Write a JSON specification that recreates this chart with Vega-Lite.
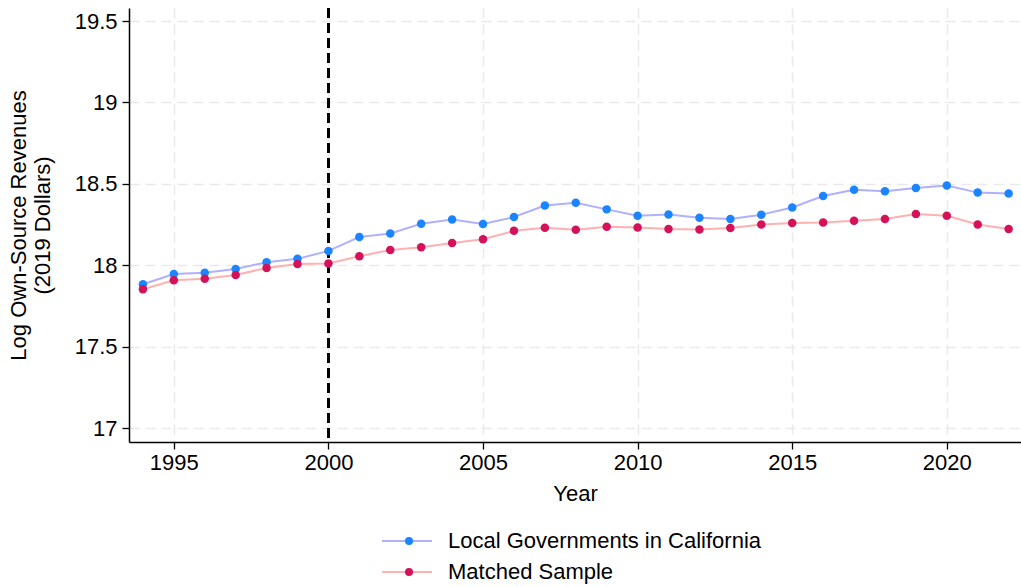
{
  "$schema": "https://vega.github.io/schema/vega-lite/v6.json",
  "autosize": {"type": "none"},
  "padding": {"left": 129, "top": 8, "right": 0, "bottom": 145},
  "width": 892,
  "height": 434,
  "background": "white",
  "config": {
    "font": "Liberation Sans",
    "view": {"stroke": null},
    "axis": {
      "labelFontSize": 22,
      "titleFontSize": 22,
      "titleFontWeight": "normal",
      "labelColor": "black",
      "titleColor": "black",
      "domainColor": "black",
      "domainWidth": 1.5,
      "tickColor": "black",
      "tickWidth": 1.3,
      "tickSize": 7,
      "gridColor": "#e9e9e9",
      "gridWidth": 1.5,
      "gridDash": [10, 6]
    },
    "legend": {
      "labelFontSize": 22,
      "labelColor": "black",
      "labelLimit": 500,
      "padding": 0,
      "rowPadding": 9
    }
  },
  "datasets": {
    "main": [
      {"year": 1994, "series": "Local Governments in California", "value": 17.883},
      {"year": 1995, "series": "Local Governments in California", "value": 17.946},
      {"year": 1996, "series": "Local Governments in California", "value": 17.954},
      {"year": 1997, "series": "Local Governments in California", "value": 17.977},
      {"year": 1998, "series": "Local Governments in California", "value": 18.018},
      {"year": 1999, "series": "Local Governments in California", "value": 18.039},
      {"year": 2000, "series": "Local Governments in California", "value": 18.088},
      {"year": 2001, "series": "Local Governments in California", "value": 18.173},
      {"year": 2002, "series": "Local Governments in California", "value": 18.195},
      {"year": 2003, "series": "Local Governments in California", "value": 18.255},
      {"year": 2004, "series": "Local Governments in California", "value": 18.281},
      {"year": 2005, "series": "Local Governments in California", "value": 18.253},
      {"year": 2006, "series": "Local Governments in California", "value": 18.296},
      {"year": 2007, "series": "Local Governments in California", "value": 18.367},
      {"year": 2008, "series": "Local Governments in California", "value": 18.384},
      {"year": 2009, "series": "Local Governments in California", "value": 18.343},
      {"year": 2010, "series": "Local Governments in California", "value": 18.304},
      {"year": 2011, "series": "Local Governments in California", "value": 18.312},
      {"year": 2012, "series": "Local Governments in California", "value": 18.292},
      {"year": 2013, "series": "Local Governments in California", "value": 18.284},
      {"year": 2014, "series": "Local Governments in California", "value": 18.31},
      {"year": 2015, "series": "Local Governments in California", "value": 18.355},
      {"year": 2016, "series": "Local Governments in California", "value": 18.425},
      {"year": 2017, "series": "Local Governments in California", "value": 18.464},
      {"year": 2018, "series": "Local Governments in California", "value": 18.454},
      {"year": 2019, "series": "Local Governments in California", "value": 18.475},
      {"year": 2020, "series": "Local Governments in California", "value": 18.489},
      {"year": 2021, "series": "Local Governments in California", "value": 18.446},
      {"year": 2022, "series": "Local Governments in California", "value": 18.44},
      {"year": 1994, "series": "Matched Sample", "value": 17.852},
      {"year": 1995, "series": "Matched Sample", "value": 17.907},
      {"year": 1996, "series": "Matched Sample", "value": 17.917},
      {"year": 1997, "series": "Matched Sample", "value": 17.94},
      {"year": 1998, "series": "Matched Sample", "value": 17.983},
      {"year": 1999, "series": "Matched Sample", "value": 18.008},
      {"year": 2000, "series": "Matched Sample", "value": 18.01},
      {"year": 2001, "series": "Matched Sample", "value": 18.055},
      {"year": 2002, "series": "Matched Sample", "value": 18.094},
      {"year": 2003, "series": "Matched Sample", "value": 18.111},
      {"year": 2004, "series": "Matched Sample", "value": 18.137},
      {"year": 2005, "series": "Matched Sample", "value": 18.16},
      {"year": 2006, "series": "Matched Sample", "value": 18.211},
      {"year": 2007, "series": "Matched Sample", "value": 18.23},
      {"year": 2008, "series": "Matched Sample", "value": 18.218},
      {"year": 2009, "series": "Matched Sample", "value": 18.236},
      {"year": 2010, "series": "Matched Sample", "value": 18.232},
      {"year": 2011, "series": "Matched Sample", "value": 18.222},
      {"year": 2012, "series": "Matched Sample", "value": 18.22},
      {"year": 2013, "series": "Matched Sample", "value": 18.228},
      {"year": 2014, "series": "Matched Sample", "value": 18.25},
      {"year": 2015, "series": "Matched Sample", "value": 18.259},
      {"year": 2016, "series": "Matched Sample", "value": 18.263},
      {"year": 2017, "series": "Matched Sample", "value": 18.273},
      {"year": 2018, "series": "Matched Sample", "value": 18.284},
      {"year": 2019, "series": "Matched Sample", "value": 18.314},
      {"year": 2020, "series": "Matched Sample", "value": 18.304},
      {"year": 2021, "series": "Matched Sample", "value": 18.25},
      {"year": 2022, "series": "Matched Sample", "value": 18.222}
    ]
  },
  "data": {"name": "main"},
  "encoding": {
    "x": {
      "field": "year",
      "type": "quantitative",
      "scale": {"domain": [1993.55, 2022.4], "nice": false, "zero": false},
      "axis": {
        "title": "Year",
        "values": [1995, 2000, 2005, 2010, 2015, 2020],
        "format": "d",
        "labelFontSize": 22,
        "titleFontSize": 22,
        "labelPadding": 3,
        "titlePadding": 10
      }
    },
    "y": {
      "field": "value",
      "type": "quantitative",
      "scale": {"domain": [16.914, 19.58], "nice": false, "zero": false},
      "axis": {
        "title": ["Log Own-Source Revenues", "(2019 Dollars)"],
        "values": [17, 17.5, 18, 18.5, 19, 19.5],
        "labelExpr": "'' + datum.value",
        "labelFontSize": 22,
        "titleFontSize": 22,
        "labelPadding": 5,
        "titlePadding": 20,
        "titleLineHeight": 24
      }
    }
  },
  "layer": [
    {
      "mark": {"type": "rule", "color": "black", "strokeWidth": 1.8, "strokeDash": [10, 5]},
      "encoding": {"x": {"datum": 2000}, "y": null}
    },
    {
      "mark": {"type": "line", "strokeWidth": 2},
      "encoding": {
        "stroke": {
          "field": "series",
          "type": "nominal",
          "scale": {
            "domain": ["Local Governments in California", "Matched Sample"],
            "range": ["#b0b0ff", "#ffb0b0"]
          },
          "legend": {
            "title": null,
            "orient": "none",
            "legendX": 267,
            "legendY": 522,
            "symbolType": "M-5,0L5,0",
            "symbolSize": 100,
            "symbolStrokeWidth": 2,
            "labelFontSize": 22,
            "labelOffset": 30
          }
        }
      }
    },
    {
      "mark": {"type": "point", "filled": true, "size": 72, "opacity": 1},
      "encoding": {
        "fill": {
          "field": "series",
          "type": "nominal",
          "scale": {"range": ["#1a85ff", "#d41159"]},
          "legend": {
            "title": null,
            "orient": "none",
            "legendX": 269,
            "legendY": 522,
            "symbolType": "circle",
            "symbolSize": 64,
            "symbolOpacity": 1,
            "symbolStrokeWidth": 0,
            "labelFontSize": 22,
            "labelOpacity": 0
          }
        }
      }
    }
  ]
}
